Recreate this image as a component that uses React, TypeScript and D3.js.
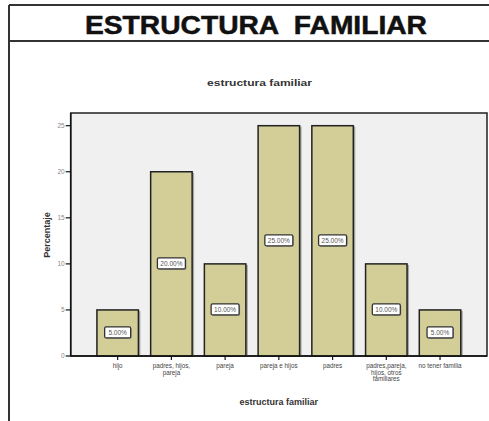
import React from "react";
import * as d3 from "d3";

const categories: string[][] = [
  ["hijo"],
  ["padres, hijos,", "pareja"],
  ["pareja"],
  ["pareja e hijos"],
  ["padres"],
  ["padres,pareja,", "hijos, otros", "familiares"],
  ["no tener familia"],
];
const values: number[] = [5, 20, 10, 25, 25, 10, 5];
const valueLabels: string[] = ["5.00%", "20.00%", "10.00%", "25.00%", "25.00%", "10.00%", "5.00%"];
const yTicks: number[] = [0, 5, 10, 15, 20, 25];

const W = 489;
const H = 421;
const plot = { left: 70.7, right: 487, top: 113, bottom: 356 };

export default function App() {
  const keys = categories.map((_, i) => String(i));
  const x = d3
    .scaleBand<string>()
    .domain(keys)
    .range([plot.left, plot.right])
    .paddingInner(0.228)
    .paddingOuter(0.488);
  const y = d3.scaleLinear().domain([0, 25]).range([plot.bottom, 125.7]);
  const bw = x.bandwidth();
  const font = "Liberation Sans, Arial, sans-serif";

  return (
    <svg
      width={W}
      height={H}
      style={{ position: "fixed", left: 0, top: 0, background: "#fff" }}
      fontFamily={font}
    >
      <rect x={0} y={0} width={W} height={H} fill="#fff" />
      {/* outer frame */}
      <line x1={9} y1={5} x2={W} y2={5} stroke="#333" strokeWidth={2} />
      <line x1={9} y1={41} x2={W} y2={41} stroke="#333" strokeWidth={2} />
      <line x1={9} y1={5} x2={9} y2={H} stroke="#333" strokeWidth={2} />
      <text
        x={256}
        y={34}
        textAnchor="middle"
        fontSize={25}
        fontWeight="bold"
        fill="#111"
        stroke="#111"
        strokeWidth={0.5}
        textLength={342}
        lengthAdjust="spacingAndGlyphs"
        style={{ whiteSpace: "pre" }}
      >
        ESTRUCTURA  FAMILIAR
      </text>

      {/* chart title */}
      <text x={259.5} y={86} textAnchor="middle" fontSize={9} fontWeight="bold" fill="#333" textLength={105} lengthAdjust="spacingAndGlyphs">
        estructura familiar
      </text>

      {/* plot area */}
      <rect
        x={plot.left}
        y={plot.top}
        width={plot.right - plot.left}
        height={plot.bottom - plot.top}
        fill="#f0f0f0"
        stroke="#222"
        strokeWidth={1.5}
      />

      {/* bars */}
      {values.map((v, i) => {
        const bx = x(String(i))!;
        const by = y(v);
        const bh = y(0) - by;
        return (
          <g key={i}>
            <rect x={bx + 2} y={by + 1} width={bw} height={bh - 1} fill="#8a8a80" opacity={0.7} />
            <rect x={bx} y={by} width={bw} height={bh} fill="#d3ce98" stroke="#222" strokeWidth={1.5} />
          </g>
        );
      })}

      {/* value labels */}
      {values.map((v, i) => {
        const cx = x(String(i))! + bw / 2;
        const cy = y(v / 2);
        const bwid = valueLabels[i].length > 5 ? 28 : 26;
        return (
          <g key={"l" + i}>
            <rect x={cx - bwid / 2 + 1} y={cy - 5} width={bwid} height={11} rx={1.5} fill="#777" opacity={0.6} />
            <rect x={cx - bwid / 2} y={cy - 6} width={bwid} height={11} rx={1.5} fill="#fff" stroke="#333" strokeWidth={1.3} />
            <text x={cx} y={cy + 2.2} textAnchor="middle" fontSize={6.5} fill="#555">
              {valueLabels[i]}
            </text>
          </g>
        );
      })}

      {/* y axis */}
      <line x1={plot.left} y1={plot.top} x2={plot.left} y2={plot.bottom} stroke="#111" strokeWidth={1.5} />
      {yTicks.map((t) => (
        <g key={"y" + t}>
          <line x1={plot.left - 5} y1={y(t)} x2={plot.left} y2={y(t)} stroke="#111" strokeWidth={1.2} />
          <text x={plot.left - 6} y={y(t) + 2.2} textAnchor="end" fontSize={6.5} fill="#888">
            {t}
          </text>
        </g>
      ))}
      <text
        transform={`translate(49.5,235) rotate(-90)`}
        textAnchor="middle"
        fontSize={9}
        fontWeight="bold"
        fill="#333"
      >
        Percentaje
      </text>

      {/* x axis */}
      <line x1={plot.left} y1={plot.bottom} x2={plot.right} y2={plot.bottom} stroke="#111" strokeWidth={1.5} />
      {categories.map((lines, i) => {
        const cx = x(String(i))! + bw / 2;
        return (
          <g key={"x" + i}>
            <line x1={cx} y1={plot.bottom} x2={cx} y2={plot.bottom + 4} stroke="#111" strokeWidth={1.2} />
            {lines.map((ln, j) => (
              <text key={j} x={cx} y={plot.bottom + 12 + j * 6.5} textAnchor="middle" fontSize={6.3} fill="#444">
                {ln}
              </text>
            ))}
          </g>
        );
      })}
      <text x={(plot.left + plot.right) / 2} y={405} textAnchor="middle" fontSize={9} fontWeight="bold" fill="#333">
        estructura familiar
      </text>
    </svg>
  );
}
